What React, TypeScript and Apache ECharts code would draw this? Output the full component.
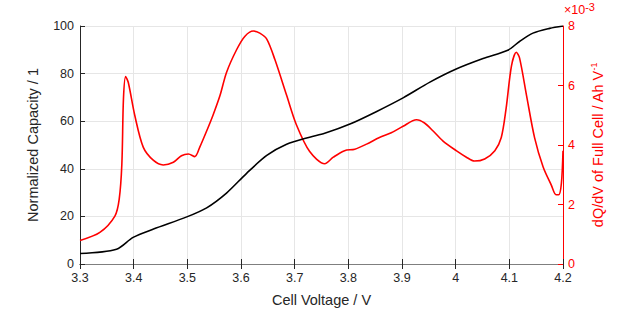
import React, { useEffect, useRef } from "react";
import * as echarts from "echarts";

// Normalized capacity (left axis) vs cell voltage
const capVoltage = [3.3, 3.368, 3.399, 3.437, 3.499, 3.536, 3.573, 3.61, 3.648, 3.685, 3.728, 3.756, 3.803, 3.852, 3.902, 3.952, 4.001, 4.051, 4.097, 4.119, 4.144, 4.175, 4.2];
const capValues = [4.4, 6.2, 11.2, 14.7, 19.8, 23.6, 29.8, 38.0, 45.6, 50.3, 53.3, 54.9, 58.8, 64.0, 69.8, 76.4, 81.9, 86.3, 89.8, 93.5, 97.0, 99.0, 100];

// dQ/dV (right axis, x10^-3 Ah/V) vs cell voltage
const dqdvVoltage = [3.3, 3.337, 3.365, 3.373, 3.378, 3.381, 3.385, 3.39, 3.402, 3.418, 3.437, 3.455, 3.474, 3.489, 3.502, 3.514, 3.523, 3.536, 3.548, 3.561, 3.573, 3.592, 3.607, 3.623, 3.635, 3.648, 3.663, 3.685, 3.703, 3.728, 3.756, 3.772, 3.793, 3.812, 3.834, 3.858, 3.88, 3.902, 3.927, 3.942, 3.958, 3.976, 4.001, 4.02, 4.035, 4.054, 4.073, 4.085, 4.094, 4.104, 4.113, 4.119, 4.132, 4.147, 4.163, 4.178, 4.187, 4.192, 4.197, 4.2];
const dqdvValues = [0.79, 1.06, 1.61, 2.17, 3.36, 5.56, 6.3, 6.1, 5.0, 3.92, 3.48, 3.33, 3.42, 3.64, 3.7, 3.61, 3.92, 4.47, 5.01, 5.67, 6.44, 7.21, 7.65, 7.83, 7.76, 7.56, 6.88, 5.67, 4.69, 3.78, 3.37, 3.59, 3.81, 3.86, 4.03, 4.25, 4.41, 4.63, 4.85, 4.74, 4.47, 4.14, 3.81, 3.59, 3.46, 3.53, 3.81, 4.25, 5.23, 6.66, 7.12, 6.93, 5.67, 4.25, 3.26, 2.66, 2.33, 2.33, 2.71, 3.81];

const leftTicks = [0, 20, 40, 60, 80, 100];
const rightTicks = [0, 2, 4, 6, 8];

const FONT = "'Liberation Sans', Arial, sans-serif";
const DARK = "#262626";
const RED = "#ff0000";

export default function App() {
  const ref = useRef<HTMLDivElement>(null);
  useEffect(() => {
    if (!ref.current) return;
    document.body.style.margin = "0";
    const chart = echarts.init(ref.current, undefined, { renderer: "svg" });
    const capData = capVoltage.map((v, i) => [v, capValues[i]]);
    const dqData = dqdvVoltage.map((v, i) => [v, dqdvValues[i]]);
    chart.setOption({
      animation: false,
      backgroundColor: "#ffffff",
      textStyle: { fontFamily: FONT },
      grid: { left: 80, right: 60, top: 26, bottom: 43 },
      xAxis: [
        {
          type: "value",
          min: 3.3,
          max: 4.2,
          interval: 0.1,
          name: "Cell Voltage / V",
          nameLocation: "middle",
          nameGap: 28,
          nameTextStyle: { color: DARK, fontSize: 14.5, fontFamily: FONT },
          axisLine: { show: true, lineStyle: { color: DARK, width: 1 } },
          axisTick: { show: true, inside: true, length: 5, lineStyle: { color: DARK } },
          axisLabel: {
            color: DARK,
            fontSize: 12.5,
            fontFamily: FONT,
            margin: 7,
            formatter: (v: number) => String(Math.round(v * 10) / 10),
          },
          splitLine: { show: true, lineStyle: { color: "#e6e6e6", width: 1 } },
        },
        {
          type: "value",
          position: "top",
          min: 3.3,
          max: 4.2,
          interval: 0.1,
          axisLine: { show: true, lineStyle: { color: "#7f7f7f", width: 1 } },
          axisTick: { show: true, inside: true, length: 5, lineStyle: { color: DARK } },
          axisLabel: { show: false },
          splitLine: { show: false },
        },
      ],
      yAxis: [
        {
          type: "value",
          min: leftTicks[0],
          max: leftTicks[leftTicks.length - 1],
          interval: 20,
          name: "Normalized Capacity / 1",
          nameLocation: "middle",
          nameGap: 40,
          nameTextStyle: { color: DARK, fontSize: 14.5, fontFamily: FONT },
          axisLine: { show: true, lineStyle: { color: DARK, width: 1 } },
          axisTick: { show: true, inside: true, length: 5, lineStyle: { color: DARK } },
          axisLabel: { color: DARK, fontSize: 12.5, fontFamily: FONT, margin: 6 },
          splitLine: { show: true, lineStyle: { color: "#e6e6e6", width: 1 } },
        },
        {
          type: "value",
          position: "right",
          min: rightTicks[0],
          max: rightTicks[rightTicks.length - 1],
          interval: 2,
          name: "dQ/dV of Full Cell / Ah V{sup|-1}",
          nameLocation: "middle",
          nameGap: 26,
          nameRotate: 90,
          nameTextStyle: {
            color: RED,
            fontSize: 14.5,
            fontFamily: FONT,
            rich: { sup: { fontSize: 9, color: RED, verticalAlign: "top", padding: [0, 0, 8, 0] } },
          },
          axisLine: { show: true, lineStyle: { color: RED, width: 1 } },
          axisTick: { show: true, inside: true, length: 5, lineStyle: { color: RED } },
          axisLabel: { color: RED, fontSize: 12.5, fontFamily: FONT, margin: 5 },
          splitLine: { show: false },
        },
      ],
      graphic: [
        {
          type: "text",
          left: 564,
          top: 1,
          style: {
            text: "×10{sup|-3}",
            fill: RED,
            font: `12.5px ${FONT}`,
            rich: { sup: { fontSize: 11, fill: RED, padding: [0, 0, 6, 0] } },
          },
        },
      ],
      series: [
        {
          type: "line",
          xAxisIndex: 0,
          yAxisIndex: 0,
          data: capData,
          showSymbol: false,
          smooth: 0.3,
          lineStyle: { color: "#000000", width: 1.6 },
          z: 3,
        },
        {
          type: "line",
          xAxisIndex: 0,
          yAxisIndex: 1,
          data: dqData,
          showSymbol: false,
          smooth: 0.3,
          lineStyle: { color: RED, width: 1.6 },
          z: 2,
        },
      ],
    });
    return () => chart.dispose();
  }, []);
  return <div ref={ref} style={{ width: 623, height: 312 }} />;
}
